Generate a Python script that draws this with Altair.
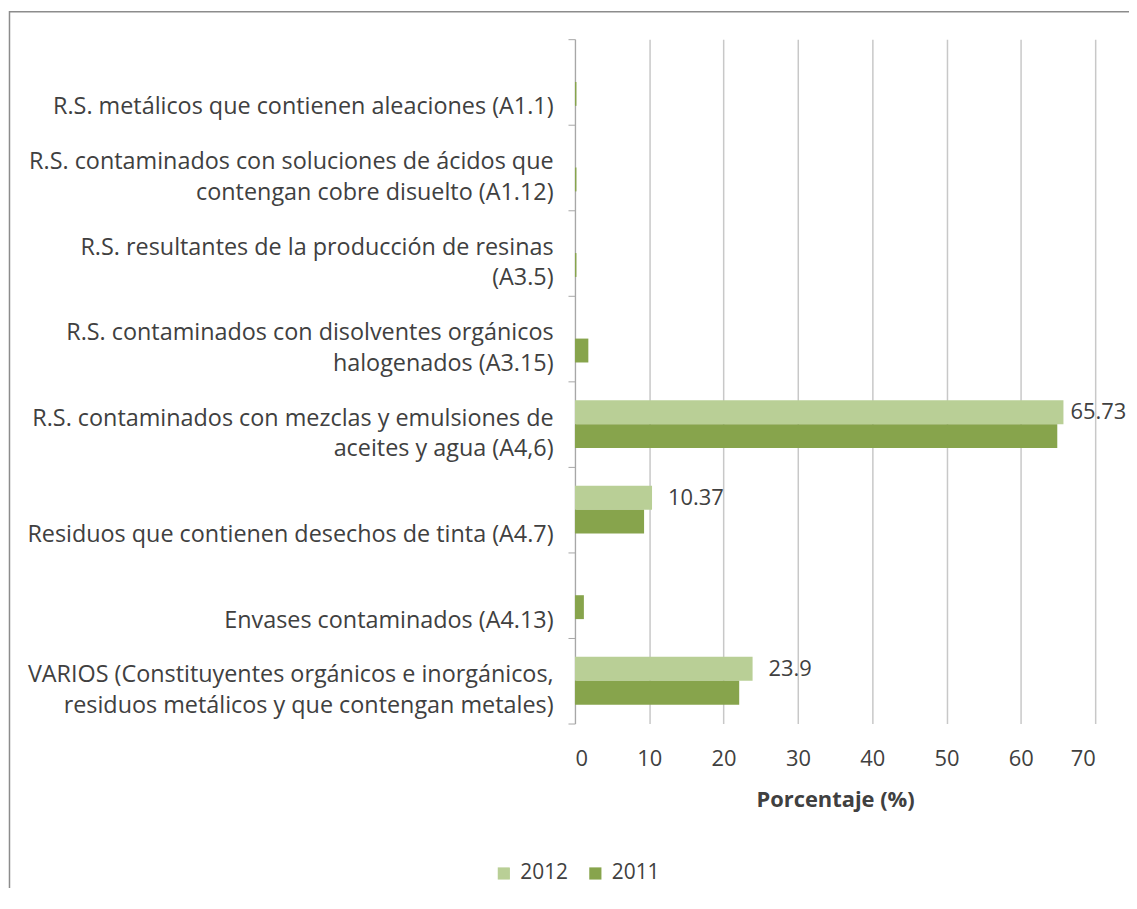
import altair as alt
import pandas as pd

categories = [
    "R.S. metálicos que contienen aleaciones (A1.1)",
    "R.S. contaminados con soluciones de ácidos que|contengan cobre disuelto (A1.12)",
    "R.S. resultantes de la producción de resinas|(A3.5)",
    "R.S. contaminados con disolventes orgánicos|halogenados (A3.15)",
    "R.S. contaminados con mezclas y emulsiones de|aceites y agua (A4,6)",
    "Residuos que contienen desechos de tinta (A4.7)",
    "Envases contaminados (A4.13)",
    "VARIOS (Constituyentes orgánicos e inorgánicos,|residuos metálicos y que contengan metales)",
]
values_2012 = [0, 0, 0, 0, 65.73, 10.37, 0, 23.9]
values_2011 = [0.2, 0.2, 0.2, 1.8, 64.9, 9.3, 1.2, 22.1]
series = ["2012", "2011"]
colors = ["#b9cf96", "#87a44c"]
x_ticks = [0, 10, 20, 30, 40, 50, 60, 70]

rows = []
for c, v12, v11 in zip(categories, values_2012, values_2011):
    rows.append({"categoria": c, "serie": "2012", "valor": v12})
    rows.append({"categoria": c, "serie": "2011", "valor": v11})
df = pd.DataFrame(rows)

FONT = "Open Sans"
TXT = "#404040"

y_enc = alt.Y(
    "categoria:N",
    sort=categories,
    scale=alt.Scale(paddingInner=0, paddingOuter=0),
    axis=alt.Axis(
        title=None,
        labelExpr="indexof(datum.label, '|') >= 0 ? split(datum.label, '|') : ['', datum.label]",
        labelAlign="right",
        labelBaseline="middle",
        labelOffset=-6,
        labelPadding=15,
        labelFontSize=23.5,
        labelFont=FONT,
        labelColor=TXT,
        labelLineHeight=31,
        labelLimit=0,
        tickBand="extent",
        tickSize=7,
        tickColor="#a6a6a6",
        domainColor="#a6a6a6",
        grid=False,
    ),
)
yoff_enc = alt.YOffset(
    "serie:N",
    sort=series,
    scale=alt.Scale(domain=series, paddingOuter=0.79, paddingInner=0),
)
x_enc = alt.X(
    "valor:Q",
    scale=alt.Scale(domain=[0, 70], nice=False),
    axis=alt.Axis(
        values=x_ticks,
        title="Porcentaje (%)",
        grid=True,
        gridColor="#c8c8c8",
        gridWidth=1.5,
        domain=False,
        ticks=False,
        labelPadding=25,
        labelFontSize=22,
        labelFont=FONT,
        labelColor=TXT,
        titleFont=FONT,
        titleFontSize=22,
        titleFontWeight="bold",
        titleColor=TXT,
        titlePadding=20,
    ),
)

bars = alt.Chart(df).mark_bar().encode(
    y=y_enc,
    yOffset=yoff_enc,
    x=x_enc,
    color=alt.Color(
        "serie:N",
        scale=alt.Scale(domain=series, range=colors),
        legend=alt.Legend(
            title=None,
            orient="none",
            legendX=-82,
            legendY=828,
            direction="horizontal",
            symbolType="square",
            symbolSize=150,
            symbolStrokeWidth=0,
            labelFont=FONT,
            labelFontSize=21,
            labelColor=TXT,
            labelOffset=6,
            columnPadding=16,
        ),
    ),
)


def value_labels(cond, dx):
    return alt.Chart(df).transform_filter(
        "datum.serie == '2012' && datum.valor > 0 && " + cond
    ).mark_text(align="left", baseline="middle", dx=dx, fontSize=22, font=FONT, color=TXT).encode(
        y=alt.Y("categoria:N", sort=categories),
        yOffset=alt.YOffset("serie:N", sort=series),
        x=alt.X("valor:Q"),
        text=alt.Text("valor:Q"),
    )


labels_small = value_labels("datum.valor < 60", 16)
labels_big = value_labels("datum.valor >= 60", 7)

border = alt.Chart(pd.DataFrame({"a": [0]})).mark_rect(
    fill=None, stroke="#8c8c8c", strokeWidth=1.5
).encode(
    x=alt.value(-568.5), x2=alt.value(700), y=alt.value(-27.5), y2=alt.value(1000)
)

chart = alt.layer(bars, labels_small, labels_big, border).properties(
    width=523,
    height=688,
    autosize=alt.AutoSizeParams(type="none"),
    padding={"left": 570, "top": 29, "right": 34, "bottom": 163},
).configure_view(stroke=None)

chart.save("out.html", embed_options={"renderer": "svg", "actions": False})
